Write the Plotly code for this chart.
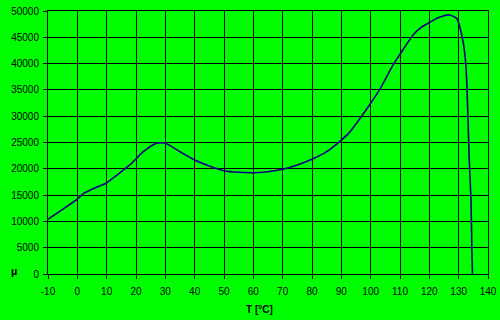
import plotly.graph_objects as go

T = [-10, -5, 0, 2.1, 5, 10, 13.5, 18.5, 22.5, 27, 30, 35, 40, 45, 50, 55, 60, 65, 70, 75,
     80, 85, 90, 92.7, 96, 99.6, 103, 107.6, 109.8, 114.4, 117, 120, 123.4, 126.8, 129.3,
     131.4, 132.5, 133.4, 133.6, 134.2, 134.5, 134.7]
MU = [10400, 12300, 14250, 15300, 16100, 17360, 18820, 21040, 23250, 24850, 24850, 23250,
      21670, 20530, 19640, 19330, 19260, 19450, 19900, 20720, 21800, 23250, 25470, 26870,
      29300, 32130, 35000, 39700, 41600, 45400, 46800, 47800, 48800, 49250, 48600, 44500,
      39400, 25500, 21700, 14070, 4560, 0]

x_ticks = list(range(-10, 141, 10))
y_ticks = list(range(0, 50001, 5000))

fig = go.Figure()
fig.add_trace(go.Scatter(x=T, y=MU, mode="lines",
                         line=dict(color="#000080", width=1.6, shape="spline", smoothing=0.6),
                         hoverinfo="skip"))

axis_common = dict(showgrid=True, gridcolor="#000000", gridwidth=1, showline=True,
                   linecolor="#000000", linewidth=1, mirror=True, ticks="outside",
                   ticklen=4, tickcolor="#000000", zeroline=False, automargin=False,
                   tickfont=dict(family="Liberation Sans, Arial", size=10, color="#000000"))

fig.update_layout(
    width=500, height=320,
    margin=dict(l=48, r=12, t=11, b=46, pad=0, autoexpand=False),
    paper_bgcolor="#00FF00", plot_bgcolor="#00FF00",
    showlegend=False,
    xaxis=dict(range=[-10, 140], tickvals=x_ticks, ticktext=[str(v) for v in x_ticks],
               ticklabelstandoff=4, **axis_common),
    yaxis=dict(range=[0, 50000], tickvals=y_ticks, ticktext=[str(v) for v in y_ticks],
               ticklabelstandoff=2, **axis_common),
    annotations=[
        dict(text="<b>µ</b>", xref="paper", yref="paper", x=-0.065, y=0.01,
             xanchor="right", yanchor="middle", showarrow=False,
             font=dict(family="Liberation Sans, Arial", size=11, color="#000000")),
        dict(text="<b>T [°C]</b>", xref="paper", yref="paper", x=0.48, y=-0.135,
             xanchor="center", yanchor="middle", showarrow=False,
             font=dict(family="Liberation Sans, Arial", size=10, color="#000000")),
    ],
)

fig.write_html("out.html")
